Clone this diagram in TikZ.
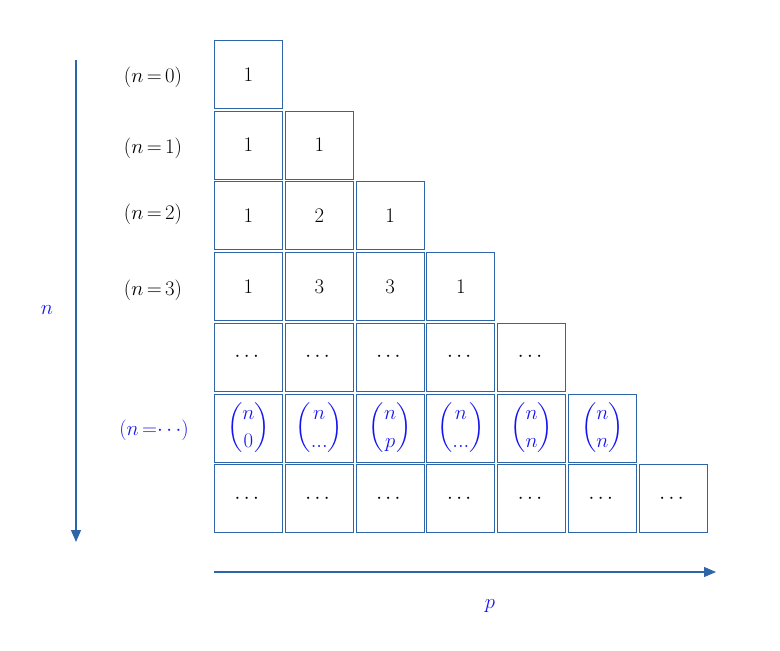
\documentclass[tikz,border=0pt]{standalone}
\usepackage{amsmath}
\usepackage{tikz}
\usetikzlibrary{arrows.meta}
\definecolor{framec}{RGB}{46,100,168}
\definecolor{idx}{RGB}{20,20,240}
\tikzstyle{cell} = [draw=framec, line width=1pt, minimum size=68pt, inner sep=0pt, font=\huge]
\tikzstyle{rowlbl} = [font=\huge]
\tikzstyle{axis} = [draw=framec, line width=1.2pt, -{Triangle[length=12pt,width=10pt]}]

\begin{document}
\begin{tikzpicture}[x=1pt,y=-1pt]
        \useasboundingbox (0,0) rectangle (780,651);
        \foreach \r/\c/\t in {0/0/1, 1/0/1, 1/1/1, 2/0/1, 2/1/2, 2/2/1, 3/0/1, 3/1/3, 3/2/3, 3/3/1}
          \node[cell](c\r\c) at (248.5+70.8*\c, 74.5+70.7*\r){$\t$};
        \foreach \c in {0,...,4}
          \node[cell](c4\c) at (248.5+70.8*\c, 74.5+70.7*4){$\cdots$};
        \foreach \c/\t in {0/0, 1/{...}, 2/p, 3/{...}, 4/n, 5/n}
          \node[cell,text=idx](c5\c) at (248.5+70.8*\c, 74.5+70.7*5){$\dbinom{n}{\t}$};
        \foreach \c in {0,...,6}
          \node[cell](c6\c) at (248.5+70.8*\c, 74.5+70.7*6){$\cdots$};
        % row labels
        \node[rowlbl](l0) at (153,77){$(n\,{=}\,0)$};
        \node[rowlbl](l1) at (153,148){$(n\,{=}\,1)$};
        \node[rowlbl](l2) at (153,214){$(n\,{=}\,2)$};
        \node[rowlbl](l3) at (153,290){$(n\,{=}\,3)$};
        \node[rowlbl,text=idx](l5) at (154,430){$(n\,{=}{\cdots})$};
        % axes
        \coordinate (ntop) at (76,60);
        \coordinate (nbot) at (76,542);
        \coordinate (pleft) at (214,572);
        \coordinate (pright) at (716,572);
        \draw[axis](ntop)--(nbot);
        \draw[axis](pleft)--(pright);
        \node[rowlbl,text=idx](nlbl) at (47,310){$n$};
        \node[rowlbl,text=idx](plbl) at (490,606){$p$};
      \end{tikzpicture}
\end{document}
